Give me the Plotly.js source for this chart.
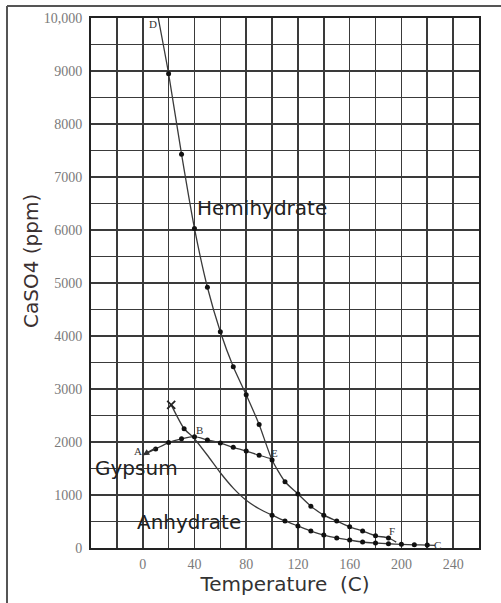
<!DOCTYPE html>
<html>
<head>
<meta charset="utf-8">
<script src="https://cdn.plot.ly/plotly-3.0.1.min.js"></script>
<style>
  html, body { margin: 0; padding: 0; background: #fff; }
  #chart { width: 501px; height: 603px; }
</style>
</head>
<body>
<div id="chart"></div>
<script>
// ---- Data (Temperature in C, CaSO4 in ppm) ----
const hemiT = [12, 20, 30, 40, 50, 60, 70, 80, 90, 100, 110, 120, 130, 140, 150, 160, 170, 180, 190, 196];
const hemiV = [10000, 8950, 7430, 6030, 4920, 4080, 3420, 2890, 2330, 1660, 1250, 1020, 790, 620, 510, 400, 320, 230, 190, 110];

const gypT = [0, 10, 20, 30, 40, 50, 60, 70, 80, 90, 100];
const gypV = [1750, 1870, 1990, 2060, 2100, 2040, 1980, 1900, 1830, 1750, 1680];

const anhT = [22, 32, 39, 50, 60, 70, 80, 90, 100, 110, 120, 130, 140, 150, 160, 170, 180, 190, 200, 210, 220, 226];
const anhV = [2700, 2250, 2090, 1750, 1420, 1130, 900, 740, 620, 510, 415, 320, 245, 190, 150, 113, 94, 80, 70, 60, 55, 50];

// measured dots (subsets of the curves above)
const hemiDotT = hemiT.slice(1, 19), hemiDotV = hemiV.slice(1, 19);
const gypDotT = gypT.slice(1, 10), gypDotV = gypV.slice(1, 10);
const anhDotT = [anhT[1]].concat(anhT.slice(8, 21)), anhDotV = [anhV[1]].concat(anhV.slice(8, 21));

const xTickVals = [0, 40, 80, 120, 160, 200, 240];
const xTickText = ['0', '40', '80', '120', '160', '200', '240'];
const yTickVals = [0, 1000, 2000, 3000, 4000, 5000, 6000, 7000, 8000, 9000, 10000];
const yTickText = ['0', '1000', '2000', '3000', '4000', '5000', '6000', '7000', '8000', '9000', '10,000'];

const pointLabels = ['D', 'B', 'E', 'F', 'C', 'A'];
const labelT = [8, 44, 102, 193, 228, -4];
const labelV = [9880, 2230, 1790, 330, 60, 1830];

const curveNames = ['Hemihydrate', 'Gypsum', 'Anhydrate'];
const curveLabelT = [92, -5, 36];
const curveLabelV = [6420, 1510, 490];

const xTitle = 'Temperature  (C)';
const yTitle = 'CaSO4 (ppm)';

// ---- Traces ----
const lineStyle = { color: '#3a3a3a', width: 1.3, shape: 'spline', smoothing: 0.6 };
const dotStyle = { color: '#111', size: 5 };

const traces = [
  { x: hemiT, y: hemiV, mode: 'lines', line: lineStyle, name: curveNames[0] },
  { x: gypT, y: gypV, mode: 'lines', line: lineStyle, name: curveNames[1] },
  { x: anhT, y: anhV, mode: 'lines', line: lineStyle, name: curveNames[2] },
  { x: hemiDotT, y: hemiDotV, mode: 'markers', marker: dotStyle, name: curveNames[0] },
  { x: gypDotT, y: gypDotV, mode: 'markers', marker: dotStyle, name: curveNames[1] },
  { x: anhDotT, y: anhDotV, mode: 'markers', marker: dotStyle, name: curveNames[2] },
  { x: [anhT[0]], y: [anhV[0]], mode: 'markers',
    marker: { symbol: 'x-thin', size: 8, line: { color: '#222', width: 1.8 } }, name: 'X' }
];

const gridColor = '#3a3a3a';
const tickFont = { family: 'Liberation Serif, DejaVu Serif, serif', size: 14, color: '#7a7a7a' };
const titleFont = { family: 'DejaVu Sans, sans-serif', size: 20, color: '#333' };

const annotations = curveNames.map((name, i) => ({
  x: curveLabelT[i], y: curveLabelV[i], text: name, xanchor: 'center',
  xref: 'x', yref: 'y', showarrow: false, yanchor: 'middle',
  font: { family: 'DejaVu Sans, sans-serif', size: 20, color: '#222' }
}));

pointLabels.forEach((t, i) => {
  annotations.push({
    x: labelT[i], y: labelV[i], xref: 'x', yref: 'y', text: t, showarrow: false,
    font: { family: 'Liberation Serif, serif', size: 11, color: '#333' }
  });
});

// arrowhead at A on the gypsum curve
annotations.push({
  x: gypT[0], y: gypV[0], ax: 14, ay: -8, xref: 'x', yref: 'y', axref: 'pixel', ayref: 'pixel',
  text: '', showarrow: true, arrowhead: 2, arrowsize: 1, arrowwidth: 1.3, arrowcolor: '#333'
});

// y-axis title (placed as rotated text, left of the tick labels)
annotations.push({
  x: -0.1546, y: 0.5415, xref: 'paper', yref: 'paper', text: yTitle, textangle: -90,
  showarrow: false, xanchor: 'center', yanchor: 'middle',
  font: Object.assign({}, titleFont, { color: '#3a3030' })
});

const layout = {
  width: 501, height: 603,
  margin: { l: 91, r: 22, t: 18, b: 55 },
  paper_bgcolor: '#fff', plot_bgcolor: '#fff',
  showlegend: false,
  xaxis: {
    range: [-40, 260], tickmode: 'array', tickvals: xTickVals, ticktext: xTickText,
    showgrid: true, gridcolor: gridColor, gridwidth: 1.6,
    minor: { tickmode: 'linear', tick0: 0, dtick: 20, showgrid: true, gridcolor: gridColor, gridwidth: 1.6, ticks: '' },
    zeroline: false, showline: true, mirror: true, linecolor: '#222', linewidth: 2,
    ticks: '', tickfont: tickFont, fixedrange: true, ticklabelstandoff: 2,
    title: { text: xTitle, font: titleFont, standoff: 6 }
  },
  yaxis: {
    range: [0, 10000], tickmode: 'array', tickvals: yTickVals, ticktext: yTickText,
    showgrid: true, gridcolor: gridColor, gridwidth: 1.6,
    minor: { tickmode: 'linear', tick0: 0, dtick: 500, showgrid: true, gridcolor: gridColor, gridwidth: 1.6, ticks: '' },
    zeroline: false, showline: true, mirror: true, linecolor: '#222', linewidth: 2,
    ticks: '', tickfont: tickFont, fixedrange: true, ticklabelstandoff: 4
  },
  annotations: annotations,
  shapes: [
    { type: 'line', xref: 'paper', yref: 'paper', x0: -0.2165, x1: -0.2165, y0: -0.11, y1: 1.0226,
      line: { color: '#555', width: 2 } },
    { type: 'line', xref: 'paper', yref: 'paper', x0: -0.2165, x1: 1.06, y0: 1.0226, y1: 1.0226,
      line: { color: '#555', width: 2 } }
  ]
};

Plotly.newPlot('chart', traces, layout, { displayModeBar: false, staticPlot: true });
</script>
</body>
</html>
